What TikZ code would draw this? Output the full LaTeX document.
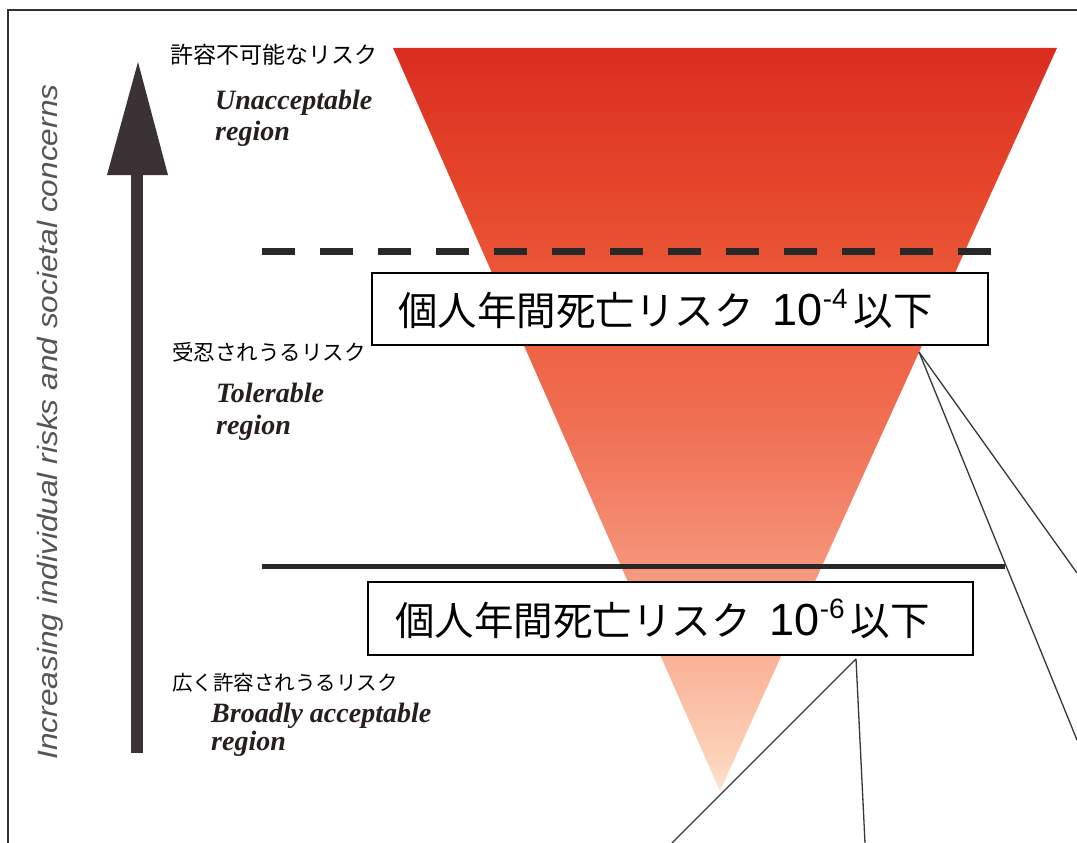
\documentclass[tikz,border=0pt]{standalone}
\usepackage{fontspec}
\setmainfont{Liberation Serif}
\newfontfamily\jpfont{Noto Sans CJK JP}
\newfontfamily\axisfont{Liberation Sans}
\definecolor{arrowcol}{RGB}{58,50,52}
\definecolor{linecol}{RGB}{40,40,40}
\definecolor{entext}{RGB}{40,30,30}
\definecolor{axiscol}{RGB}{85,85,85}
\definecolor{framecol}{RGB}{50,50,50}
\definecolor{callcol}{RGB}{55,55,55}
\definecolor{sA}{RGB}{253,228,208}
\definecolor{sB}{RGB}{252,210,184}
\definecolor{sC}{RGB}{248,172,145}
\definecolor{sD}{RGB}{243,135,108}
\definecolor{sE}{RGB}{240,110,82}
\definecolor{sF}{RGB}{236,92,60}
\definecolor{sG}{RGB}{230,72,44}
\definecolor{sH}{RGB}{218,45,32}
\pgfdeclareverticalshading{riskshade}{100bp}{color(0bp)=(sA); color(25bp)=(sA); color(27.2bp)=(sB); color(35.2bp)=(sC); color(43.3bp)=(sD); color(50bp)=(sE); color(58bp)=(sF); color(64.8bp)=(sG); color(75bp)=(sH); color(100bp)=(sH)}
\tikzset{
  jplabel/.style={anchor=west, inner sep=0pt, font=\jpfont\fontsize{23}{23}\selectfont},
  enlabel/.style={anchor=base west, inner sep=0pt, text=entext, font=\bfseries\itshape\fontsize{28}{28}\selectfont},
  riskbox/.style={draw=black, line width=1.6pt, fill=white, inner sep=0pt, font=\jpfont\fontsize{39.5}{40}\selectfont},
  dashline/.style={draw=linecol, line width=7pt, dash pattern=on 33pt off 25pt},
  solidline/.style={draw=linecol, line width=5pt},
  callout/.style={draw=callcol, line width=1.3pt},
  framestyle/.style={draw=framecol, line width=2pt},
}
\newcommand{\riskval}[1]{個人年間死亡リスク\hspace{19pt}{\axisfont\fontsize{45}{45}\selectfont 10}\raisebox{17pt}{\axisfont\fontsize{28}{28}\selectfont #1}\hspace{6pt}以下}
\begin{document}
\begin{tikzpicture}[x=1pt,y=-1pt]
\useasboundingbox (0,0) rectangle (1077,843);
\clip (0,0) rectangle (1077,843);
\fill[white] (0,0) rectangle (1077,843);
% frame
\draw[framestyle] (8,860) -- (8,10) -- (1090,10);
% risk triangle
\coordinate (tl) at (393,48);
\coordinate (tr) at (1057,48);
\coordinate (tapex) at (720,791);
\shade[shading=riskshade] (tl) -- (tr) -- (tapex) -- cycle;
% arrow
\fill[arrowcol] (131,173) rectangle (143,753);
\fill[arrowcol] (138,62) -- (168,175) -- (107,175) -- cycle;
% axis text
\node[rotate=90, inner sep=0pt, text=axiscol, font=\axisfont\itshape\fontsize{28}{28}\selectfont] (axis) at (50,422)
  {\scalebox{1.13}[1]{Increasing individual risks and societal concerns}};
% boundary lines
\coordinate (d1) at (262,251);
\coordinate (d2) at (998,251);
\draw[dashline] (d1) -- (d2);
\coordinate (s1) at (262,566);
\coordinate (s2) at (1005,566);
\draw[solidline] (s1) -- (s2);
% labels
\node[jplabel] (j1) at (170,55) {許容不可能なリスク};
\node[enlabel] (u1) at (215,110) {Unacceptable};
\node[enlabel] (u2) at (215,140) {region};
\node[jplabel, font=\jpfont\fontsize{21.5}{21.5}\selectfont] (j2) at (172,352) {受忍されうるリスク};
\node[enlabel] (t1) at (216,402) {Tolerable};
\node[enlabel] (t2) at (216,434) {region};
\node[jplabel, font=\jpfont\fontsize{20.5}{20.5}\selectfont] (j3) at (172,683) {広く許容されうるリスク};
\node[enlabel] (b1l) at (211,722) {Broadly acceptable};
\node[enlabel] (b2l) at (211,750) {region};
% boxes
\node[riskbox, minimum width=616pt, minimum height=72pt] (box1) at (680,309)
  {\riskval{-4}\hspace*{29pt}};
\node[riskbox, minimum width=605pt, minimum height=73pt] (box2) at (670.5,618.5)
  {\riskval{-6}\hspace*{16pt}};
% callouts
\coordinate (c1) at (919,352);
\coordinate (c1a) at (1077,573);
\coordinate (c1b) at (1077,740);
\draw[callout] (c1) -- (c1a);
\draw[callout] (c1) -- (c1b);
\coordinate (c2) at (856,659);
\coordinate (c2a) at (672,843);
\coordinate (c2b) at (865,843);
\draw[callout] (c2) -- (c2a);
\draw[callout] (c2) -- (c2b);
\end{tikzpicture}
\end{document}
